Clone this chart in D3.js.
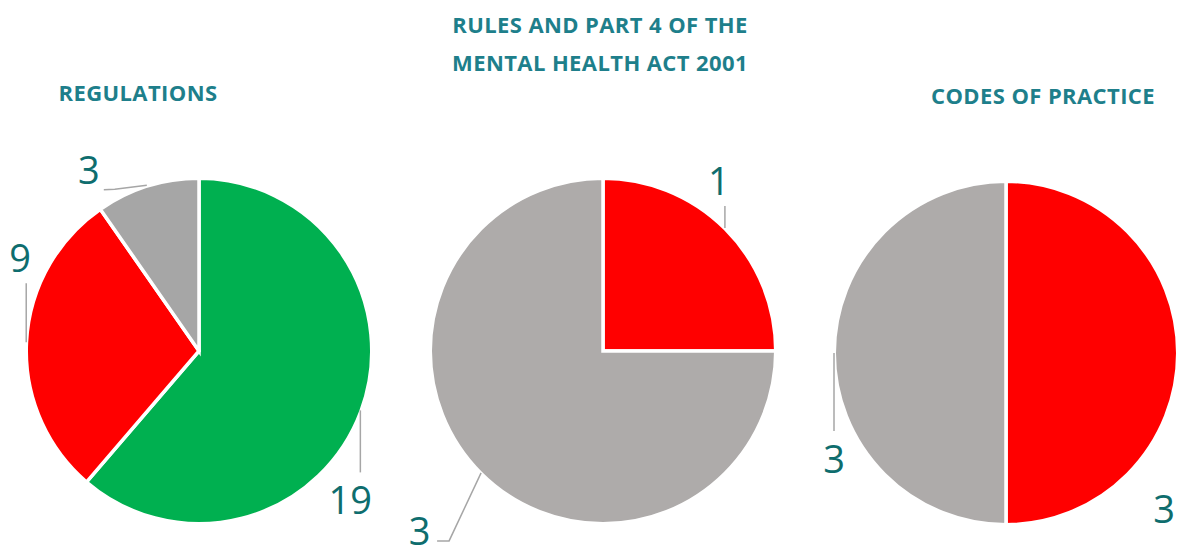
<!DOCTYPE html>
<html>
<head>
<meta charset="utf-8">
<script src="https://cdnjs.cloudflare.com/ajax/libs/d3/7.8.5/d3.min.js"></script>
<style>
	body { margin: 0; background: #fff; }
	#chart { width: 1177px; height: 548px; }
	.title { font-family: "Open Sans", sans-serif; font-weight: 700; font-size: 22px; letter-spacing: 0.4px; fill: #1E7F8B; }
	.value-label { font-family: "Open Sans", sans-serif; font-weight: 400; font-size: 38px; fill: #0E6D6E; }
	.leader { fill: none; stroke: #A6A6A6; stroke-width: 1.5; }
</style>
</head>
<body>
<div id="chart"></div>
<script>

// ------------------------ data ------------------------------

var regulationsCategories = ["Compliant", "Non-compliant", "Not applicable"];
var regulationsValues = [19, 9, 3];

var rulesCategories = ["Non-compliant", "Not applicable"];
var rulesValues = [1, 3];

var codesCategories = ["Non-compliant", "Not applicable"];
var codesValues = [3, 3];

var titles = [
	["REGULATIONS"],
	["RULES AND PART 4 OF THE", "MENTAL HEALTH ACT 2001"],
	["CODES OF PRACTICE"]
];


// ------------------------ layout ------------------------------

var width = 1177, height = 548;

var svg = d3.select("#chart").append("svg")
		.attr("width", width)
		.attr("height", height)
		.attr("viewBox", "0 0 " + width + " " + height);

// one entry per pie: centre, radius, colours, title position and label placement
// leader = points relative to the slice edge, label = text position relative to the slice edge
var pies = [
	{	cats: regulationsCategories, values: regulationsValues, title: titles[0],
		cx: 199, cy: 351, r: 171,
		colour: { "Compliant": "#00B050", "Non-compliant": "#FF0000", "Not applicable": "#A6A6A6" },
		titleX: 138, titleY: 101,
		labels: [
			{ leader: [[1, 0], [1, 62]], label: [-9, 104] },
			{ leader: [[-2, 0], [-2, -59]], label: [-8, -70] },
			{ leader: [[-1, -2.5], [-33, 1.5], [-44, 2]], label: [-59, -3.5] }
		] },
	{	cats: rulesCategories, values: rulesValues, title: titles[1],
		cx: 603, cy: 351, r: 171,
		colour: { "Non-compliant": "#FF0000", "Not applicable": "#AEABAA" },
		titleX: 600, titleY: 33,
		labels: [
			{ leader: [[1, -2], [1, -24]], label: [-5, -35] },
			{ leader: [[-1, 1], [-33, 69], [-45, 69]], label: [-62.5, 73] }
		] },
	{	cats: codesCategories, values: codesValues, title: titles[2],
		cx: 1006, cy: 353, r: 170,
		colour: { "Non-compliant": "#FF0000", "Not applicable": "#AEABAA" },
		titleX: 1043, titleY: 104,
		labels: [
			{ leader: null, label: [-12, 170] },
			{ leader: [[-2, 0], [-2, 78]], label: [-2, 120] }
		] }
];


// ------------------------ build pies ------------------------------

var build_pie = function(p) {

	var pie = d3.pie().sort(null).value(function(d) { return d.value; });
	var data = pie(p.cats.map(function(c, i) { return { category: c, value: p.values[i] }; }));

	var arc = d3.arc().innerRadius(0).outerRadius(p.r + 1.75);
	var edge = d3.arc().innerRadius(p.r).outerRadius(p.r);

	var g = svg.append("g")
			.attr("transform", "translate(" + p.cx + "," + p.cy + ")");

	// slices
	g.selectAll(".slice")
		.data(data)
		.enter().append("path")
			.attr("class", "slice")
			.attr("d", arc)
			.attr("fill", function(d) { return p.colour[d.data.category]; })
			.attr("stroke", "#fff")
			.attr("stroke-width", 3.5)
			.attr("stroke-linejoin", "miter");

	// leader lines and value labels
	data.forEach(function(d, i) {
		var lab = p.labels[i];
		var a = edge.centroid(d);
		if (lab.leader) {
			g.append("path")
				.attr("class", "leader")
				.attr("d", d3.line()(lab.leader.map(function(pt) { return [a[0] + pt[0], a[1] + pt[1]]; })));
		}
		g.append("text")
			.attr("class", "value-label")
			.attr("x", a[0] + lab.label[0])
			.attr("y", a[1] + lab.label[1])
			.attr("text-anchor", "middle")
			.text(d.data.value);
	});

	// title
	var t = svg.append("text")
			.attr("class", "title")
			.attr("text-anchor", "middle")
			.attr("x", p.titleX)
			.attr("y", p.titleY);
	t.selectAll("tspan")
		.data(p.title)
		.enter().append("tspan")
			.attr("x", p.titleX)
			.attr("dy", function(d, i) { return i == 0 ? 0 : 37.5; })
			.text(function(d) { return d; });
}

pies.forEach(build_pie);

</script>
</body>
</html>
